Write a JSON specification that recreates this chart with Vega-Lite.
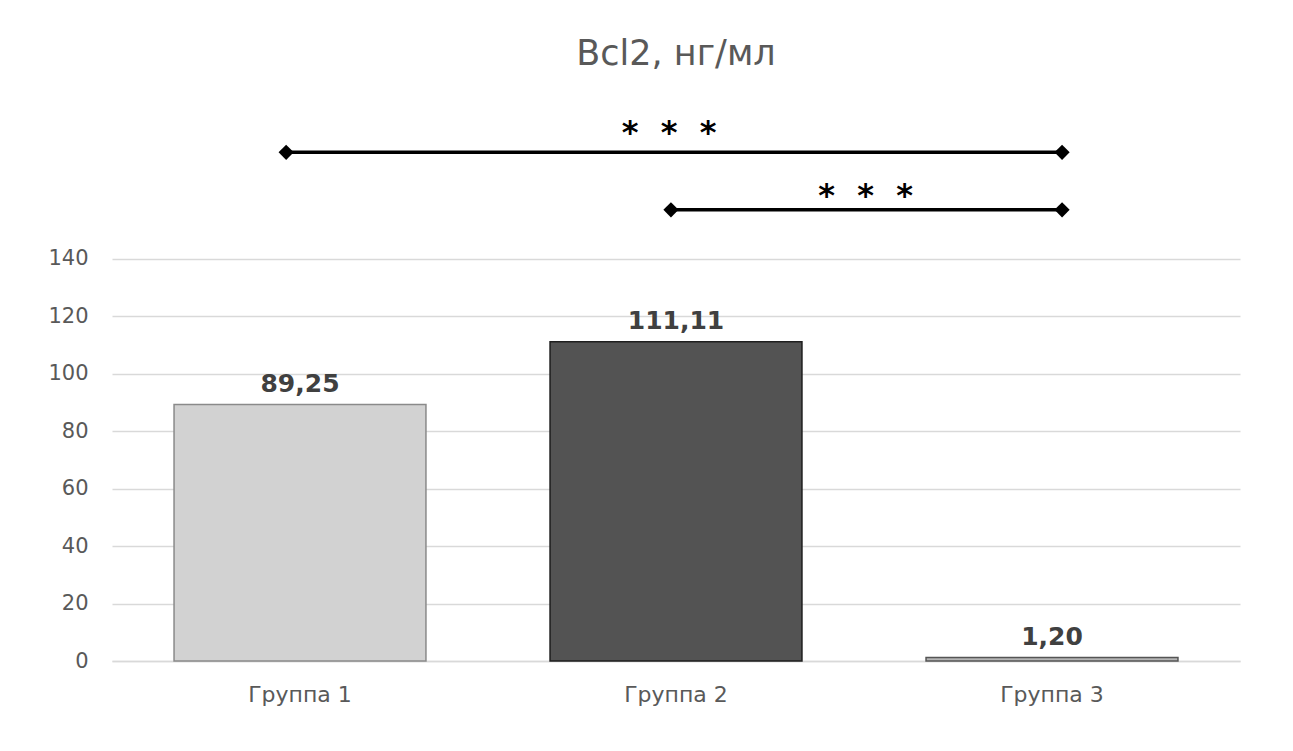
{
  "$schema": "https://vega.github.io/schema/vega-lite/v6.json",
  "autosize": {"type": "none"},
  "width": 1128,
  "height": 546,
  "padding": {"left": 112, "top": 115, "right": 53, "bottom": 90},
  "background": "white",
  "title": {
    "text": "Bcl2, нг/мл",
    "fontSize": 35,
    "font": "DejaVu Sans",
    "fontWeight": "normal",
    "color": "#595959",
    "anchor": "middle",
    "offset": 43
  },
  "config": {
    "view": {"stroke": null},
    "locale": {"number": {"decimal": ",", "thousands": " ", "grouping": [3], "currency": ["", ""]}}
  },
  "layer": [
    {
      "data": {"values": [
        {"group": "Группа 1", "value": 89.25},
        {"group": "Группа 2", "value": 111.11},
        {"group": "Группа 3", "value": 1.2}
      ]},
      "layer": [
        {
          "mark": {"type": "bar", "strokeWidth": 1.5},
          "encoding": {
            "x": {"field": "group", "type": "nominal", "sort": null,
              "scale": {"paddingInner": 0.33, "paddingOuter": 0.165},
              "axis": {"title": null, "labelAngle": 0, "labelFontSize": 22, "labelColor": "#595959", "labelFont": "DejaVu Sans", "ticks": false, "domainColor": "#d9d9d9", "domainWidth": 1.5, "labelPadding": 23}},
            "y": {"field": "value", "type": "quantitative",
              "scale": {"domain": [0, 190], "nice": false},
              "axis": {"title": null, "values": [0, 20, 40, 60, 80, 100, 120, 140], "domain": false, "ticks": false, "gridColor": "#d9d9d9", "gridWidth": 1.5, "labelFontSize": 21, "labelColor": "#595959", "labelFont": "DejaVu Sans", "labelPadding": 24}},
            "fill": {"field": "group", "type": "nominal", "legend": null,
              "scale": {"range": ["#d2d2d2", "#535353", "#b5b5b5"]}},
            "stroke": {"field": "group", "type": "nominal", "legend": null,
              "scale": {"range": ["#8a8a8a", "#1e1e1e", "#555555"]}}
          }
        },
        {
          "mark": {"type": "text", "baseline": "bottom", "dy": -8, "fontSize": 25, "fontWeight": "bold", "font": "DejaVu Sans", "color": "#404040"},
          "encoding": {
            "x": {"field": "group", "type": "nominal", "sort": null},
            "y": {"field": "value", "type": "quantitative"},
            "text": {"field": "value", "type": "quantitative", "format": ".2f"}
          }
        }
      ]
    },
    {
      "data": {"values": [{"from": "Группа 1", "to": "Группа 3", "level": 177, "starLevel": 186.5, "stars": "* \u00a0* \u00a0*"}]},
      "layer": [
        {"mark": {"type": "rule", "strokeWidth": 3.5, "color": "black"},
         "encoding": {
           "x": {"field": "from", "type": "nominal", "bandPosition": 0.445},
           "x2": {"field": "to", "bandPosition": 0.54},
           "y": {"field": "level", "type": "quantitative"}}},
        {"mark": {"type": "point", "shape": "diamond", "filled": true, "size": 230, "color": "black", "opacity": 1},
         "encoding": {
           "x": {"field": "from", "type": "nominal", "bandPosition": 0.445},
           "y": {"field": "level", "type": "quantitative"}}},
        {"mark": {"type": "point", "shape": "diamond", "filled": true, "size": 230, "color": "black", "opacity": 1},
         "encoding": {
           "x": {"field": "to", "type": "nominal", "bandPosition": 0.54},
           "y": {"field": "level", "type": "quantitative"}}},
        {"mark": {"type": "text", "baseline": "middle", "fontSize": 32, "fontWeight": "bold", "font": "DejaVu Sans", "color": "black", "dy": 8},
         "encoding": {
           "x": {"field": "to", "type": "nominal", "bandPosition": -1.02},
           "y": {"field": "starLevel", "type": "quantitative"},
           "text": {"field": "stars"}}}
      ]
    },
    {
      "data": {"values": [{"from": "Группа 2", "to": "Группа 3", "level": 157, "starLevel": 164.6, "stars": "* \u00a0* \u00a0*"}]},
      "layer": [
        {"mark": {"type": "rule", "strokeWidth": 3.5, "color": "black"},
         "encoding": {
           "x": {"field": "from", "type": "nominal", "bandPosition": 0.48},
           "x2": {"field": "to", "bandPosition": 0.54},
           "y": {"field": "level", "type": "quantitative"}}},
        {"mark": {"type": "point", "shape": "diamond", "filled": true, "size": 230, "color": "black", "opacity": 1},
         "encoding": {
           "x": {"field": "from", "type": "nominal", "bandPosition": 0.48},
           "y": {"field": "level", "type": "quantitative"}}},
        {"mark": {"type": "point", "shape": "diamond", "filled": true, "size": 230, "color": "black", "opacity": 1},
         "encoding": {
           "x": {"field": "to", "type": "nominal", "bandPosition": 0.54},
           "y": {"field": "level", "type": "quantitative"}}},
        {"mark": {"type": "text", "baseline": "middle", "fontSize": 32, "fontWeight": "bold", "font": "DejaVu Sans", "color": "black", "dy": 8},
         "encoding": {
           "x": {"field": "to", "type": "nominal", "bandPosition": -0.24},
           "y": {"field": "starLevel", "type": "quantitative"},
           "text": {"field": "stars"}}}
      ]
    }
  ]
}
